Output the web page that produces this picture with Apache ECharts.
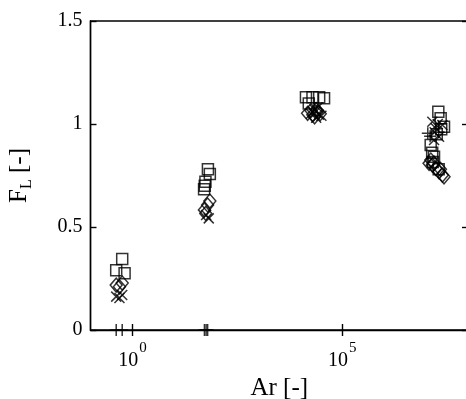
<!DOCTYPE html>
<html>
<head>
<meta charset="utf-8">
<script src="https://cdn.jsdelivr.net/npm/echarts@6/dist/echarts.min.js"></script>
<style>
  html, body { margin: 0; padding: 0; background: #fff; }
  #chart { width: 466px; height: 399px; }
</style>
</head>
<body>
<div id="chart"></div>
<script>
// Lift factor F_L against Archimedes number Ar, grouped by regime
var squarePts = [
  [0.57, 0.345], [0.41, 0.29], [0.65, 0.275],
  [63, 0.78], [70, 0.757], [55, 0.72], [51, 0.683], [53, 0.70],
  [13700, 1.13], [19600, 1.13], [28300, 1.13], [37000, 1.125], [16000, 1.10],
  [1.96e7, 1.06], [2.23e7, 1.028], [2.68e7, 0.987], [2.3e7, 0.975], [1.29e7, 0.898], [1.55e7, 0.841], [1.4e7, 0.86],
  [1.8e7, 0.95], [1.45e7, 0.815], [2.0e7, 0.78]
];
var diamondPts = [
  [0.41, 0.218], [0.57, 0.228], [0.49, 0.21],
  [70, 0.626], [52, 0.583], [62, 0.607], [56, 0.566],
  [15000, 1.052], [20000, 1.045], [26000, 1.06], [30000, 1.05], [22000, 1.035], [24000, 1.07], [18000, 1.065],
  [1.18e7, 0.809], [1.41e7, 0.801], [1.7e7, 0.785], [2.04e7, 0.768], [2.45e7, 0.752], [2.68e7, 0.744], [1.3e7, 0.825],
  [1.55e7, 0.81], [2.2e7, 0.78]
];
var crossPts = [
  [0.41, 0.162], [0.57, 0.17], [0.49, 0.155],
  [66, 0.542], [57, 0.558],
  [24000, 1.03], [28000, 1.045], [20000, 1.06], [32000, 1.04], [22000, 1.07], [26000, 1.08], [18000, 1.05],
  [1.41e7, 1.011], [1.7e7, 0.979], [2.04e7, 0.938], [2.45e7, 0.995], [1.55e7, 0.922], [1.9e7, 1.0], [1.6e7, 0.96]
];
var plusPts = [
  [0.41, 0], [0.57, 0],
  [52, 0], [57, 0], [62, 0],
  [1.1e7, 0.955], [1.25e7, 0.94], [2.0e7, 0.96]
];
var xTickValues = [1, 100000];
var yTicks = { min: 0, max: 1.5, step: 0.5 };

var serif = 'Liberation Serif';
var ink = '#000';

function hollow(name, symbol, size, data) {
  return {
    type: 'scatter', name: name, data: data,
    symbol: symbol, symbolSize: size,
    itemStyle: { color: 'rgba(0,0,0,0)', borderColor: ink, borderWidth: 1.5 },
    emphasis: { disabled: true },
    z: 3
  };
}

var chart = echarts.init(document.getElementById('chart'), null, { renderer: 'canvas' });
chart.setOption({
  animation: false,
  backgroundColor: '#fff',
  grid: {
    left: 90.5, top: 21, right: -2, bottom: 69, outerBoundsMode: 'none', containLabel: false,
    show: true, borderColor: ink, borderWidth: 1.4, backgroundColor: 'rgba(0,0,0,0)'
  },
  xAxis: [{
    type: 'log', logBase: 10, min: 0.1, max: 1e8,
    name: 'Ar [-]', nameLocation: 'middle', nameGap: 41,
    nameTextStyle: { fontFamily: serif, fontSize: 25, color: ink },
    axisLine: { show: true, onZero: false, lineStyle: { color: ink, width: 1.4 } },
    axisTick: { show: true, inside: true, length: 6, customValues: xTickValues, lineStyle: { color: ink, width: 1.4 } },
    axisLabel: {
      customValues: xTickValues, margin: 11, color: ink, fontFamily: serif, fontSize: 20,
      formatter: function (v) { return '{b|10}{s|' + Math.round(Math.log10(v)) + '}'; },
      rich: {
        b: { fontFamily: serif, fontSize: 20, lineHeight: 20, color: ink, verticalAlign: 'top', padding: [10, 0, 0, 0] },
        s: { fontFamily: serif, fontSize: 15, lineHeight: 15, color: ink, verticalAlign: 'top', padding: [0, 0, 0, 1] }
      }
    },
    splitLine: { show: false }
  }, {
    type: 'log', logBase: 10, min: 0.1, max: 1e8, position: 'top',
    axisLine: { show: false },
    axisTick: { show: true, inside: true, length: 6, customValues: xTickValues, lineStyle: { color: ink, width: 1.4 } },
    axisLabel: { show: false }, splitLine: { show: false }
  }],
  yAxis: [{
    type: 'value', min: yTicks.min, max: yTicks.max, interval: yTicks.step,
    name: 'F{sub|L} [-]', nameLocation: 'middle', nameGap: 56, nameRotate: 90,
    nameTextStyle: {
      fontFamily: serif, fontSize: 25, color: ink,
      rich: { sub: { fontFamily: serif, fontSize: 16, color: ink, padding: [14, 0, 0, 0] } }
    },
    axisLine: { show: true, lineStyle: { color: ink, width: 1.4 } },
    axisTick: { show: true, inside: true, length: 6, lineStyle: { color: ink, width: 1.4 } },
    axisLabel: { margin: 8, color: ink, fontFamily: serif, fontSize: 20 },
    splitLine: { show: false }
  }, {
    type: 'value', min: yTicks.min, max: yTicks.max, interval: yTicks.step, position: 'right',
    axisLine: { show: false },
    axisTick: { show: true, inside: true, length: 6, lineStyle: { color: ink, width: 1.4 } },
    axisLabel: { show: false }, splitLine: { show: false }
  }],
  series: [
    hollow('square', 'rect', 11, squarePts),
    hollow('diamond', 'diamond', [12, 14], diamondPts),
    hollow('cross', 'path://M0,0L10,10M10,0L0,10', 10, crossPts),
    hollow('plus', 'path://M5,0L5,10M0,5L10,5', 12, plusPts)
  ]
});
</script>
</body>
</html>
